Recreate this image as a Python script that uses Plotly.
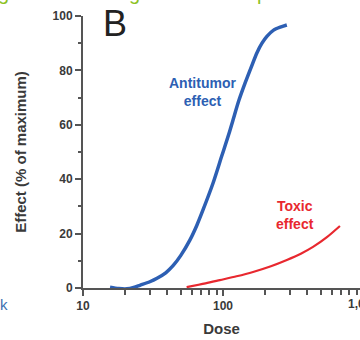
import plotly.graph_objects as go

# Data
antitumor_dose = [15.6, 18, 20.6, 23, 25.5, 30, 33.8, 39, 44, 50, 58, 65, 72, 85, 98,
                  110, 118, 130, 144, 160, 175, 190, 206, 230, 260, 286]
antitumor_effect = [0.3, -0.2, -0.3, 0.2, 1.0, 2.3, 3.6, 5.6, 8.2, 12.0, 17.6, 23.0, 28.7, 38.6, 48.5,
                    56.5, 61.8, 69.0, 75.4, 81.5, 86.5, 90.0, 92.5, 94.8, 96.0, 96.7]
toxic_dose = [55, 75, 95, 125, 164, 220, 286, 360, 440, 550, 685]
toxic_effect = [0.3, 1.7, 2.9, 4.3, 5.9, 8.0, 10.3, 12.6, 15.1, 18.6, 22.8]

y_ticks = [0, 20, 40, 60, 80, 100]
x_ticks = [10, 100]
x_ticklabels = ["10", "100"]

BLUE = "#2d5fb3"
RED = "#e8282f"
AXIS = "#555555"
TXT = "#3a3a3a"
FONT = "Liberation Sans, Arial, sans-serif"

fig = go.Figure()
fig.add_trace(go.Scatter(x=antitumor_dose, y=antitumor_effect, mode="lines",
                         line=dict(color=BLUE, width=3.5, shape="spline", smoothing=0.8),
                         cliponaxis=False, showlegend=False))
fig.add_trace(go.Scatter(x=toxic_dose, y=toxic_effect, mode="lines",
                         line=dict(color=RED, width=2.2, shape="spline", smoothing=0.8),
                         cliponaxis=False, showlegend=False))

fig.update_layout(
    width=360, height=340,
    margin=dict(l=83, r=0, t=16, b=52),
    paper_bgcolor="white", plot_bgcolor="white",
    font=dict(family=FONT, color=TXT),
    xaxis=dict(type="log", range=[1, 2.979], showgrid=False, zeroline=False, automargin=False,
               showline=True, linecolor=AXIS, linewidth=2,
               tickmode="array", tickvals=x_ticks, ticktext=x_ticklabels,
               ticks="outside", ticklen=6, tickwidth=2, tickcolor=AXIS,
               tickfont=dict(size=12, family=FONT, color=TXT, weight="bold"),
               minor=dict(tickmode="array",
                          tickvals=[20, 30, 40, 50, 60, 70, 80, 90, 200, 300, 400, 500, 600, 700, 800, 900],
                          ticks="outside", ticklen=5, tickwidth=2, tickcolor=AXIS, showgrid=False),
               title=dict(text="<b>Dose</b>", font=dict(size=15, color=TXT), standoff=11)),
    yaxis=dict(range=[0, 100], showgrid=False, zeroline=False, automargin=False,
               showline=True, linecolor=AXIS, linewidth=2,
               tickmode="array", tickvals=y_ticks,
               ticks="outside", ticklen=6, tickwidth=2, tickcolor=AXIS,
               tickfont=dict(size=12, family=FONT, color=TXT, weight="bold"),
               minor=dict(tickmode="array", tickvals=[10, 30, 50, 70, 90],
                          ticks="outside", ticklen=3, tickwidth=2, tickcolor=AXIS, showgrid=False),
               title=dict(text="<b>Effect (% of maximum)</b>", font=dict(size=15, color=TXT), standoff=22)),
)

fig.add_annotation(x=(363 - 83) / 277, y=0, xref="paper", yref="paper", text="<b>1,000</b>",
                   showarrow=False, xanchor="center", yanchor="top", yshift=-7,
                   font=dict(size=12, color=TXT))
fig.add_annotation(x=1.857, y=72, xref="x", yref="y", text="<b>Antitumor<br>effect</b>",
                   showarrow=False, font=dict(size=14, color=BLUE))
fig.add_annotation(x=2.514, y=27, xref="x", yref="y", text="<b>Toxic<br>effect</b>",
                   showarrow=False, font=dict(size=14, color=RED))
fig.add_annotation(x=(101 - 83) / 277, y=(288 - 23) / 272, xref="paper", yref="paper", text="B",
                   showarrow=False, xanchor="left", yanchor="middle",
                   font=dict(size=36, color="#222222"))

# cropped fragments of the surrounding figure
GREEN = "#8cc21f"
for gx, ch in [(3, "g"), (134, "g"), (262, "p")]:
    fig.add_annotation(x=(gx - 83) / 277, y=(288 - 6) / 272, xref="paper", yref="paper", text=ch,
                       showarrow=False, xanchor="center", yanchor="bottom",
                       font=dict(size=20, color=GREEN))
fig.add_annotation(x=(4 - 83) / 277, y=(288 - 304) / 272, xref="paper", yref="paper", text="k",
                   showarrow=False, xanchor="center", yanchor="middle",
                   font=dict(size=15, color="#3a6fb0"))

fig.write_html("out.html", config={"displayModeBar": False},
               post_script="document.body.style.margin='0';")
